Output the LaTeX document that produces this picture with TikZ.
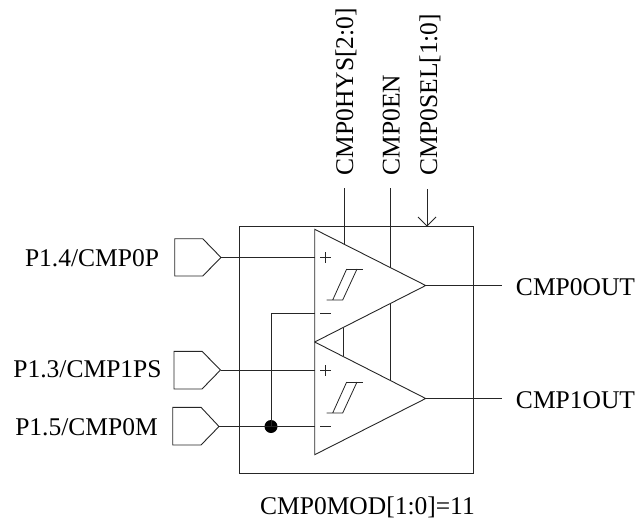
\documentclass[tikz,border=0pt]{standalone}
\usepackage{fontspec}
\setmainfont{Liberation Serif}
\tikzset{
  lbl/.style={inner sep=0pt,anchor=base,font=\fontsize{25.5}{28}\selectfont},
  vlbl/.style={inner sep=0pt,anchor=base west,rotate=90,font=\fontsize{25.5}{28}\selectfont},
  ln/.style={line width=0.9pt,black!85},
  thin2/.style={line width=0.8pt,black!85},
}
\begin{document}
\begin{tikzpicture}[x=1pt,y=-1pt]
\useasboundingbox (0,0) rectangle (635,519);
% frame
\node[draw,ln,minimum width=234pt,minimum height=247pt,inner sep=0pt,anchor=north west] (frame) at (239,226) {};
% comparators
\coordinate (t0a) at (314.7,229.3);
\coordinate (t0o) at (425.7,285.5);
\coordinate (tm) at (314.7,342);
\coordinate (t1o) at (425.7,398.5);
\coordinate (t1b) at (314.7,454.7);
\draw[ln,line join=miter] (t0a) -- (t0o) -- (tm) -- cycle;
\draw[ln,line join=miter] (tm) -- (t1o) -- (t1b) -- cycle;
% hysteresis symbols
\foreach \d in {0,113}{
  \begin{scope}[yshift=-\d pt]
  \draw[thin2] (326.7,300) -- (342.7,300) -- (357,269) (346.7,269) -- (332.7,300);
  \draw[thin2] (346.7,269) -- (362.7,269);
  % plus / minus
  \draw[thin2] (320,257.5) -- (331,257.5) (325.7,252) -- (325.7,263);
  \draw[thin2] (320,313.7) -- (331,313.7);
  \end{scope}
}
% pins
\draw[ln] (174.7,238.7) -- (202.7,238.7) -- (221,257.5) coordinate (p0t) -- (202.7,276) -- (174.7,276) -- cycle;
\draw[ln] (174,351.3) -- (202,351.3) -- (220.5,370) coordinate (p1t) -- (202,389) -- (174,389) -- cycle;
\draw[ln] (172.7,407.3) -- (201,407.3) -- (219,426.5) coordinate (p2t) -- (201,445) -- (172.7,445) -- cycle;
% input wires
\coordinate (ip0) at (314.7,257.5);
\coordinate (im0) at (314.7,313.7);
\coordinate (ip1) at (314.7,370);
\coordinate (im1) at (314.7,426.5);
\node[circle,fill=black,inner sep=0pt,minimum size=13pt] (dot) at (271,426.5) {};
\draw[ln] (p0t) -- (ip0);
\draw[ln] (p1t) -- (ip1);
\draw[ln] (p2t) -- (im1);
\draw[ln] (dot.center) -- (271,313.7) -- (im0);
% outputs
\coordinate (o0) at (502,285.5);
\coordinate (o1) at (502,398.5);
\draw[ln] (t0o) -- (o0);
\draw[ln] (t1o) -- (o1);
% controls
\coordinate (h0) at (344.3,188);
\coordinate (h1) at (344.3,243.5);
\coordinate (h2) at (343,327.7);
\coordinate (h3) at (343,355.7);
\draw[ln] (h0) -- (h1);
\draw[ln] (h2) -- (h3);
\coordinate (e0) at (390,188);
\coordinate (e1) at (390,267.7);
\coordinate (e2) at (390,304);
\coordinate (e3) at (390,380);
\draw[ln] (e0) -- (e1);
\draw[ln] (e2) -- (e3);
\coordinate (s0) at (427,189);
\coordinate (s1) at (427,226);
\draw[ln] (s0) -- (s1);
\draw[ln] (418,217) -- (s1) -- (436,217);
% labels
\node[lbl] (l0) at (92,266) {P1.4/CMP0P};
\node[lbl] (l1) at (87.5,377.3) {P1.3/CMP1PS};
\node[lbl] (l2) at (86.5,435) {P1.5/CMP0M};
\node[lbl] (l3) at (575.5,295) {CMP0OUT};
\node[lbl] (l4) at (575.5,408) {CMP1OUT};
\node[lbl] (l5) at (367.5,514) {CMP0MOD[1:0]=11};
\node[vlbl] (v0) at (353,175.5) {CMP0HYS[2:0]};
\node[vlbl] (v1) at (399.5,175.5) {CMP0EN};
\node[vlbl] (v2) at (437,175.5) {CMP0SEL[1:0]};
\end{tikzpicture}
\end{document}
